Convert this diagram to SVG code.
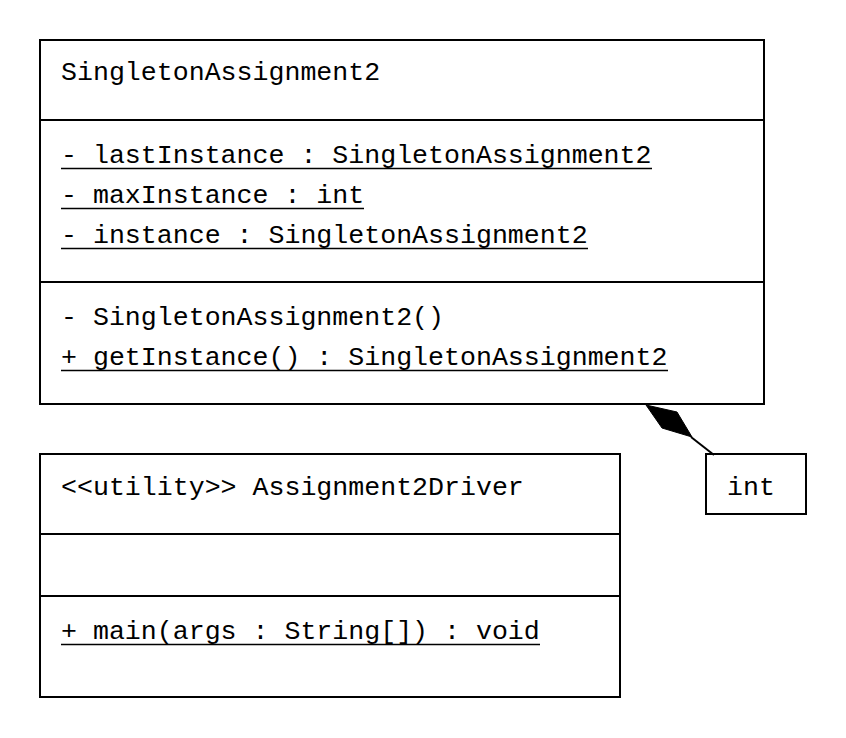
<svg xmlns="http://www.w3.org/2000/svg" width="846" height="738" viewBox="0 0 846 738">
<style>
.box{fill:#fff;stroke:#000;stroke-width:2}
.ln{stroke:#000;stroke-width:2}
.ul{stroke:#000;stroke-width:1.3}
text{font-family:"Liberation Mono","Courier New",monospace;font-size:26.6px;fill:#000}
</style>
<rect width="846" height="738" fill="#fff"/>
<g id="SingletonAssignment2">
<rect class="box" x="40" y="40" width="724" height="364"/>
<line class="ln" x1="40" y1="120" x2="764" y2="120"/>
<line class="ln" x1="40" y1="282" x2="764" y2="282"/>
<text x="61" y="80">SingletonAssignment2</text>
<text x="61" y="163">- lastInstance : SingletonAssignment2</text>
<line class="ul" x1="61" y1="168.5" x2="652" y2="168.5"/>
<text x="61" y="203">- maxInstance : int</text>
<line class="ul" x1="61" y1="208.5" x2="364" y2="208.5"/>
<text x="61" y="243">- instance : SingletonAssignment2</text>
<line class="ul" x1="61" y1="248.5" x2="588" y2="248.5"/>
<text x="61" y="325">- SingletonAssignment2()</text>
<text x="61" y="365">+ getInstance() : SingletonAssignment2</text>
<line class="ul" x1="61" y1="370.5" x2="668" y2="370.5"/>
</g>
<g id="Assignment2Driver">
<rect class="box" x="40" y="454" width="580" height="243"/>
<line class="ln" x1="40" y1="534" x2="620" y2="534"/>
<line class="ln" x1="40" y1="596" x2="620" y2="596"/>
<text x="61" y="495">&lt;&lt;utility&gt;&gt; Assignment2Driver</text>
<text x="61" y="639">+ main(args : String[]) : void</text>
<line class="ul" x1="61" y1="644.5" x2="540" y2="644.5"/>
</g>
<g id="int">
<rect class="box" x="706" y="454" width="100" height="60"/>
<text x="727" y="495">int</text>
</g>
<g id="connectors">
<line class="ln" x1="691" y1="437" x2="714" y2="455"/>
<polygon points="646,405 677,412 692,437 662,428" fill="#000" stroke="#000" stroke-width="1"/>
</g>
</svg>
